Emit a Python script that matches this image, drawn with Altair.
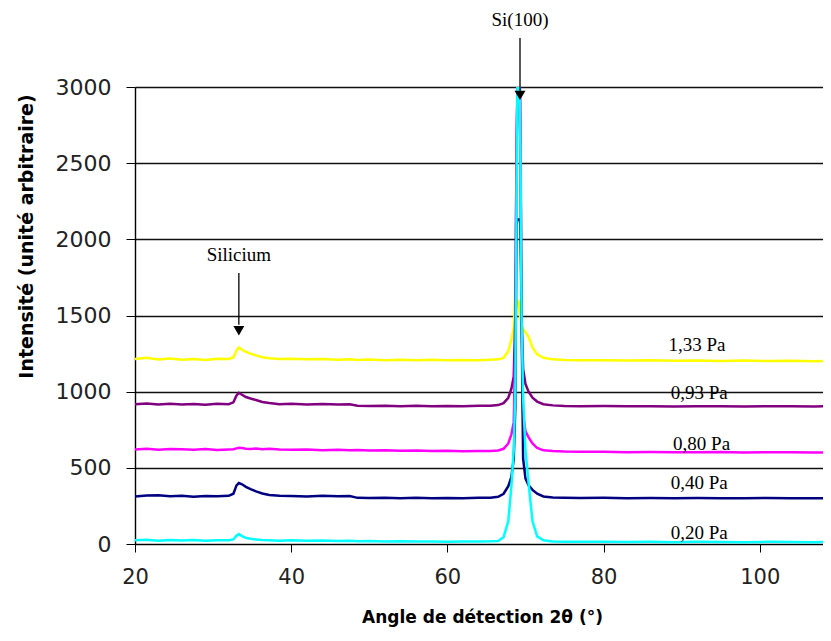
import altair as alt
import pandas as pd

# shared 2-theta sampling (degrees)
angles = [20, 21.5, 23, 24.5, 26, 27.5, 29, 30.5, 32, 32.6,
          33.0, 33.3, 33.7, 34.2, 34.8, 35.5, 36.3, 37.2, 38.5, 40,
          42, 44, 46, 47.5, 48.5, 50, 52, 54, 56, 58,
          60, 62, 64, 65.5, 66.5, 67.2, 67.8, 68.2, 68.5, 68.7,
          68.85, 69.0, 69.1, 69.2, 69.35, 69.5, 69.7, 70.0, 70.4, 70.9,
          71.5, 72.3, 73.5, 75, 77, 80, 83, 86, 89, 92,
          95, 98, 101, 104, 107, 109]

i_133 = [1215, 1222, 1212, 1218, 1210, 1214, 1208, 1216, 1215, 1225,
         1270, 1290, 1275, 1262, 1250, 1238, 1226, 1220, 1214, 1216,
         1212, 1215, 1210, 1213, 1208, 1211, 1207, 1210, 1206, 1209,
         1206, 1208, 1207, 1210, 1212, 1222, 1265, 1340, 1420, 1650,
         1600, 1560, 1600, 1540, 1480, 1440, 1410, 1390, 1360, 1290,
         1245, 1222, 1212, 1208, 1206, 1207, 1204, 1206, 1203, 1205,
         1202, 1204, 1201, 1203, 1200, 1202]

i_093 = [918, 922, 916, 920, 915, 919, 914, 921, 918, 930,
         975, 992, 980, 965, 955, 945, 932, 925, 918, 920,
         916, 919, 915, 917, 907, 906, 908, 905, 907, 904,
         906, 905, 907, 908, 912, 925, 960, 1020, 1100, 1500,
         2500, 3100, 3200, 3100, 2600, 1500, 1150, 1050, 1000, 960,
         935, 918, 910, 906, 905, 906, 904, 905, 903, 905,
         904, 903, 905, 904, 903, 904]

i_080 = [620, 626, 618, 624, 622, 619, 623, 617, 621, 622,
         628, 632, 630, 626, 624, 627, 622, 625, 620, 618,
         621, 616, 619, 615, 617, 613, 615, 612, 613, 610,
         612, 609, 611, 610, 614, 625, 660, 720, 800, 1300,
         2600, 3100, 3200, 3150, 2900, 1500, 850, 740, 700, 660,
         630, 615, 610, 607, 606, 605, 603, 604, 602, 603,
         604, 601, 603, 602, 600, 601]

i_040 = [312, 318, 320, 314, 316, 311, 315, 313, 316, 330,
         385, 400, 392, 375, 360, 345, 332, 322, 316, 315,
         312, 316, 313, 315, 303, 302, 304, 301, 303, 300,
         302, 301, 303, 304, 310, 330, 380, 440, 560, 900,
         2100, 2130, 2130, 2130, 2130, 1500, 560, 430, 385, 355,
         330, 312, 305, 303, 302, 303, 301, 302, 300, 302,
         301, 300, 302, 301, 300, 301]

i_020 = [24, 28, 22, 26, 23, 27, 22, 25, 24, 30,
         55, 65, 52, 40, 34, 30, 26, 24, 22, 25,
         21, 23, 20, 22, 18, 19, 17, 18, 16, 17,
         15, 16, 17, 18, 20, 45, 150, 380, 620, 1000,
         2200, 3200, 3300, 3200, 2600, 1500, 950, 620, 400, 150,
         50, 24, 17, 15, 14, 15, 13, 14, 12, 14,
         13, 12, 14, 13, 12, 13]

series_names = ["1,33 Pa", "0,93 Pa", "0,80 Pa", "0,40 Pa", "0,20 Pa"]
series_vals = [i_133, i_093, i_080, i_040, i_020]
series_colors = ["#FFFF00", "#800080", "#FF00FF", "#000080", "#00FFFF"]

label_angle = [88.3, 88.6, 88.9, 88.6, 88.6]
label_int = [1306, 991, 656, 400, 72]

annot_text = ["Si(100)", "Silicium"]
annot_angle = [69.3, 33.3]
annot_text_y = [3440, 1897]
arrow_top = [3322, 1779]
arrow_end = [2975, 1440]
arrow_head = [2945, 1400]

rows = []
for k, (name, vals) in enumerate(zip(series_names, series_vals)):
    for a, v in zip(angles, vals):
        rows.append({"angle": a, "intensity": v, "series": name, "k": k})
df = pd.DataFrame(rows)

lab_df = pd.DataFrame({"angle": label_angle, "intensity": label_int, "text": series_names})
ann_df = pd.DataFrame({"angle": annot_angle, "ty": annot_text_y, "text": annot_text,
                       "top": arrow_top, "end": arrow_end, "head": arrow_head})

xs = alt.Scale(domain=[20, 108.1], nice=False, zero=False)
ys = alt.Scale(domain=[0, 3000], nice=False)

x_axis = alt.Axis(values=[20, 40, 60, 80, 100], grid=False, tickSize=8, tickColor="black",
                  domainColor="black", labelFont="DejaVu Sans", labelFontSize=21,
                  labelColor="#222", labelPadding=14, labelFlush=False, format="d",
                  title="Angle de détection 2θ (°)", titleFont="DejaVu Sans",
                  titleFontSize=17, titleFontWeight="bold", titleColor="black",
                  titleX=347, titleY=73, titleBaseline="middle", titleAlign="center")
y_axis = alt.Axis(values=[0, 500, 1000, 1500, 2000, 2500, 3000], grid=True,
                  gridColor="#111", gridWidth=1.4, tickSize=9, tickColor="black",
                  domainColor="black", domainWidth=1.4, labelFont="DejaVu Sans",
                  labelFontSize=22, labelColor="#222", labelPadding=15, labelFlush=False,
                  format="d",
                  title="Intensité (unité arbitraire)", titleFont="DejaVu Sans",
                  titleFontSize=19, titleFontWeight="bold", titleColor="black",
                  titleAngle=-90, titleX=-109, titleY=149, titleBaseline="middle",
                  titleAlign="center")

lines = alt.Chart(df).mark_line(clip=True, strokeWidth=2.5).encode(
    x=alt.X("angle:Q", scale=xs, axis=x_axis),
    y=alt.Y("intensity:Q", scale=ys, axis=y_axis),
    color=alt.Color("series:N", scale=alt.Scale(domain=series_names, range=series_colors),
                    legend=None),
)

labels = alt.Chart(lab_df).mark_text(font="Liberation Serif", fontSize=19, align="left",
                                      baseline="middle", color="black").encode(
    x=alt.X("angle:Q", scale=xs), y=alt.Y("intensity:Q", scale=ys), text="text:N")

ann_text = alt.Chart(ann_df).mark_text(font="Liberation Serif", fontSize=19, align="center",
                                        baseline="middle", color="black", clip=False).encode(
    x=alt.X("angle:Q", scale=xs), y=alt.Y("ty:Q", scale=ys), text="text:N")

ann_rule = alt.Chart(ann_df).mark_rule(color="black", strokeWidth=1.3, clip=False).encode(
    x=alt.X("angle:Q", scale=xs), y=alt.Y("top:Q", scale=ys), y2="end:Q")

ann_head = alt.Chart(ann_df).mark_point(shape="triangle-down", filled=True, color="black",
                                         size=120, opacity=1, clip=False).encode(
    x=alt.X("angle:Q", scale=xs), y=alt.Y("head:Q", scale=ys))

chart = alt.layer(lines, labels, ann_rule, ann_head, ann_text).properties(
    width=688, height=457,
    autosize=alt.AutoSizeParams(type="none"),
    padding={"left": 127, "top": 79, "right": 0, "bottom": 85},
    background="white",
).configure_view(stroke=None)

chart.save("out.html", embed_options={"renderer": "svg", "actions": False})
